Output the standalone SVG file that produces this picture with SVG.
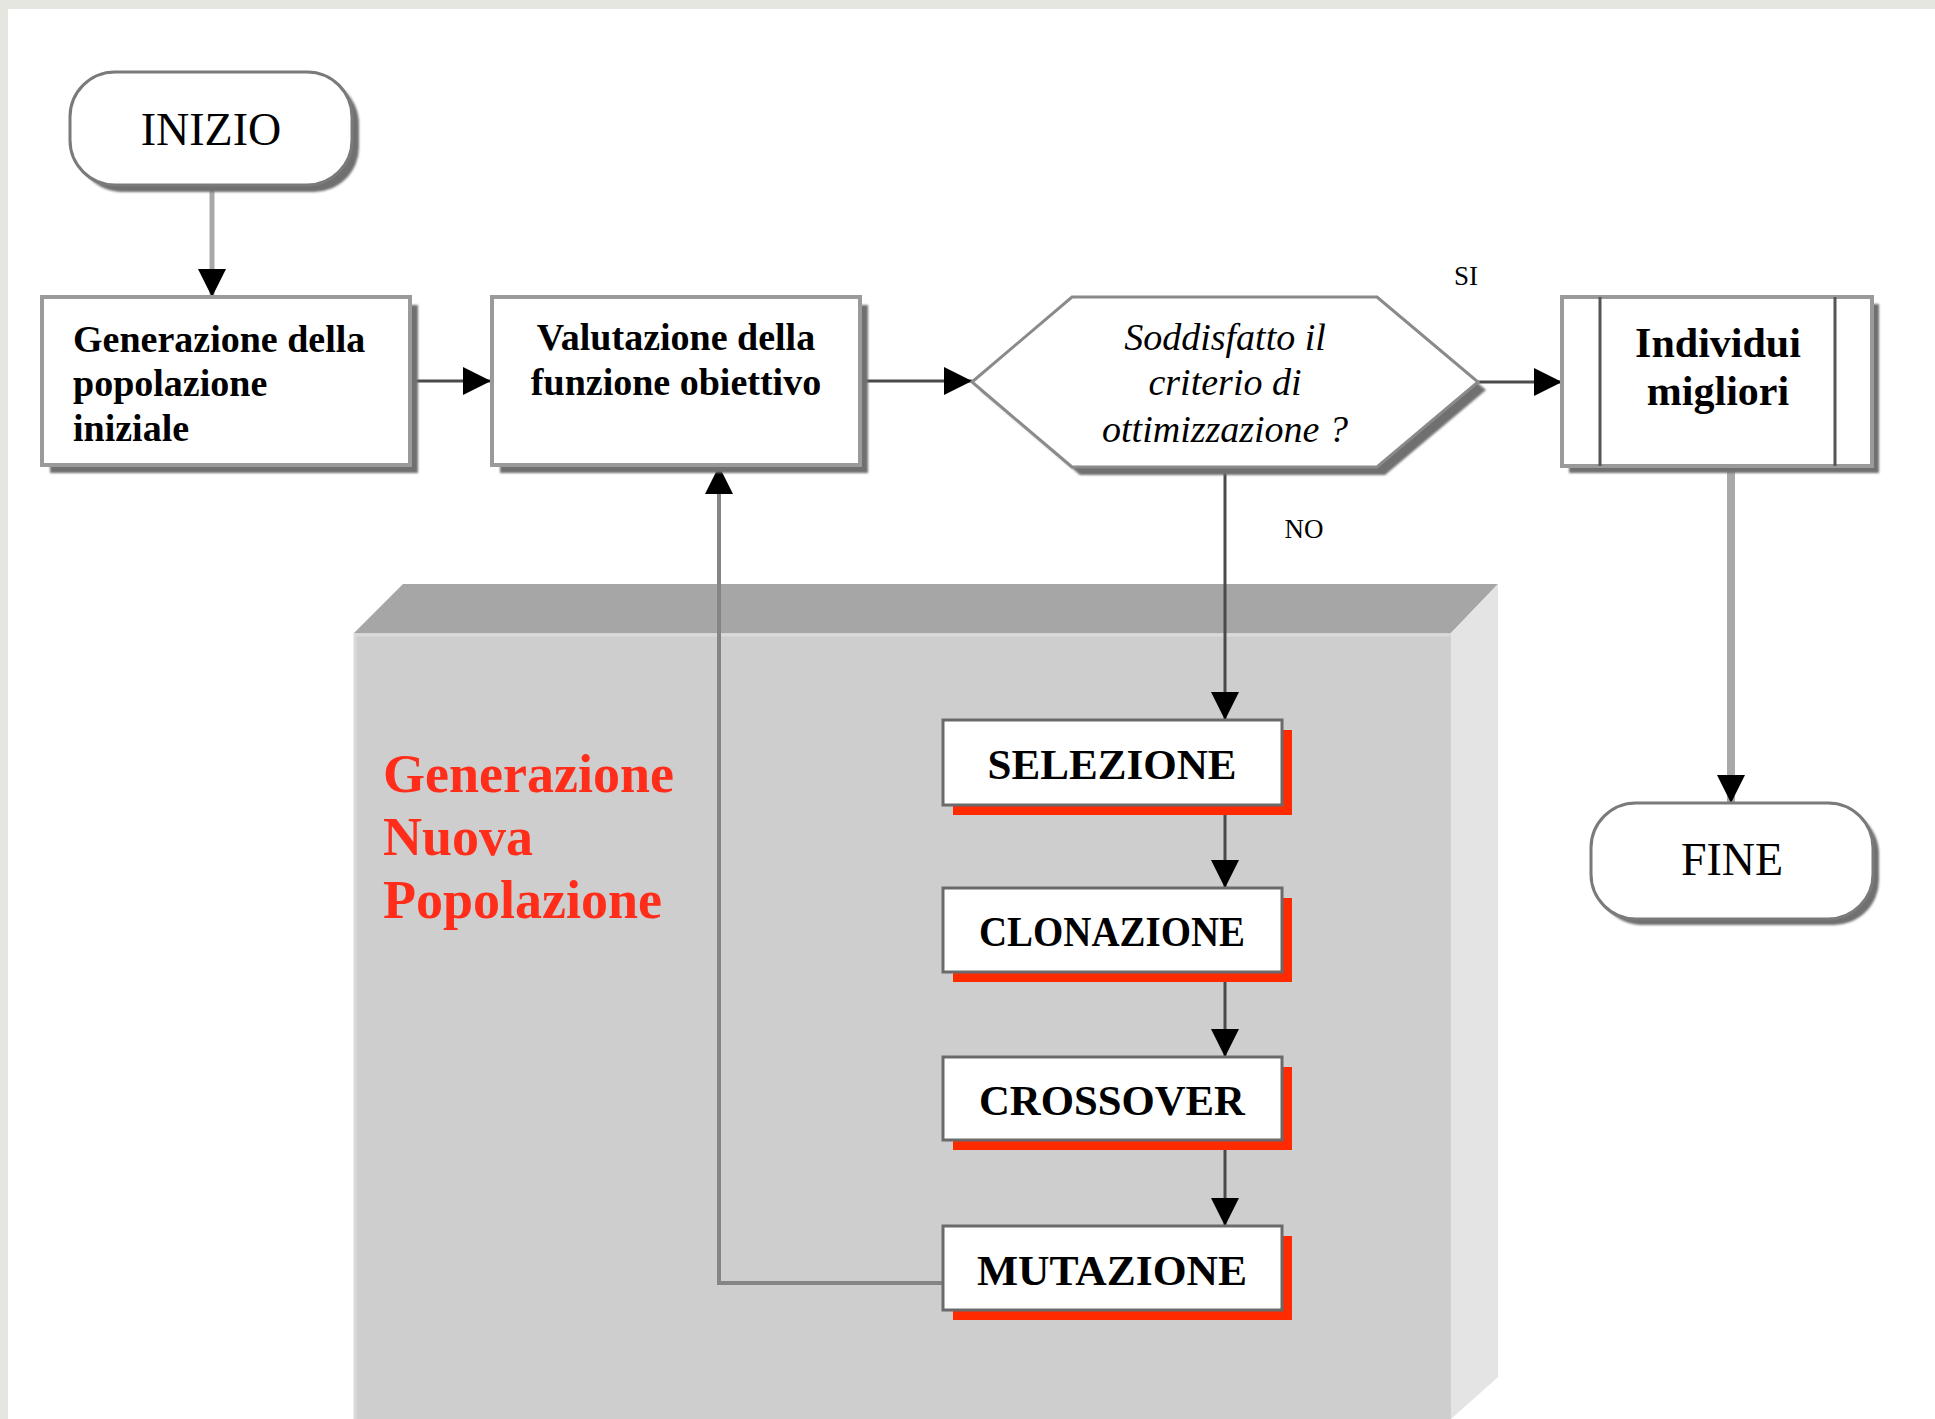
<svg xmlns="http://www.w3.org/2000/svg" width="1935" height="1419" viewBox="0 0 1935 1419">
  <defs>
    <style>
      .t { font-family: "Liberation Serif", "Times New Roman", serif; fill: #000; }
      .b { font-weight: bold; }
      .term { fill: #fff; stroke: #7a7a7a; stroke-width: 3; }
      .box { fill: #fff; stroke: #9a9a9a; stroke-width: 4; }
      .shadow { fill: #6f6f6f; filter: url(#soft); }
      .proc { fill: #fff; stroke: #6a6a6a; stroke-width: 3; }
      .red { fill: #ff2a00; }
      .dark { fill: none; stroke: #4a4a4a; stroke-width: 3; }
      .light { fill: none; stroke: #a8a8a8; }
      .rt { fill: #ff2d1a; }
    </style>
    <filter id="soft" x="-5%" y="-5%" width="110%" height="110%">
      <feGaussianBlur stdDeviation="1.2"/>
    </filter>
    <marker id="arr" viewBox="0 0 28 28" refX="28" refY="14" markerWidth="28" markerHeight="28" markerUnits="userSpaceOnUse" orient="auto">
      <path d="M0,0 L28,14 L0,28 z" fill="#000"/>
    </marker>
  </defs>

  <!-- page -->
  <rect x="0" y="0" width="1935" height="1419" fill="#e6e6e1"/>
  <rect x="8" y="9" width="1927" height="1410" fill="#fff"/>

  <!-- 3D block behind the loop steps -->
  <g id="block">
    <polygon points="354,633 403,584 1498,584 1451,633" fill="#a6a6a6"/>
    <polygon points="1451,633 1498,584 1498,1377 1451,1419" fill="#e4e4e4"/>
    <rect x="354" y="633" width="1097" height="786" fill="#cecece"/>
    <line x1="354" y1="635" x2="1451" y2="635" stroke="#dadada" stroke-width="3"/>
    <line x1="355" y1="633" x2="355" y2="1419" stroke="#dadada" stroke-width="3"/>
    <text class="t b rt" x="383" y="792" font-size="54">Generazione</text>
    <text class="t b rt" x="383" y="855" font-size="54">Nuova</text>
    <text class="t b rt" x="383" y="918" font-size="54">Popolazione</text>
  </g>

  <!-- connectors -->
  <g id="connectors">
    <path d="M212,185 V297" class="light" stroke-width="5" marker-end="url(#arr)"/>
    <path d="M410,381 H491" class="dark" marker-end="url(#arr)"/>
    <path d="M860,381 H972" class="dark" marker-end="url(#arr)"/>
    <path d="M1478,382 H1562" class="dark" marker-end="url(#arr)"/>
    <path d="M1731,466 V803" class="light" stroke-width="8" marker-end="url(#arr)"/>
    <path d="M1225,467 V720" class="dark" marker-end="url(#arr)"/>
    <path d="M1225,805 V888" class="dark" marker-end="url(#arr)"/>
    <path d="M1225,972 V1057" class="dark" marker-end="url(#arr)"/>
    <path d="M1225,1140 V1226" class="dark" marker-end="url(#arr)"/>
    <path d="M943,1283 H719 V466" fill="none" stroke="#858585" stroke-width="4" marker-end="url(#arr)"/>
    <text class="t" x="1466" y="285" font-size="27" text-anchor="middle">SI</text>
    <text class="t" x="1304" y="538" font-size="27" text-anchor="middle">NO</text>
  </g>

  <!-- start -->
  <g id="inizio">
    <rect x="77" y="79" width="282" height="113" rx="45" class="shadow"/>
    <rect x="70" y="72" width="282" height="113" rx="45" class="term"/>
    <text class="t" x="211" y="145" font-size="46" text-anchor="middle">INIZIO</text>
  </g>

  <!-- initial population -->
  <g id="generazione">
    <rect x="50" y="305" width="368" height="168" class="shadow"/>
    <rect x="42" y="297" width="368" height="168" class="box"/>
    <text class="t b" font-size="38"><tspan x="73" y="352">Generazione della</tspan><tspan x="73" y="396">popolazione</tspan><tspan x="73" y="441">iniziale</tspan></text>
  </g>

  <!-- fitness evaluation -->
  <g id="valutazione">
    <rect x="500" y="305" width="368" height="168" class="shadow"/>
    <rect x="492" y="297" width="368" height="168" class="box"/>
    <text class="t b" font-size="38" text-anchor="middle"><tspan x="676" y="350">Valutazione della</tspan><tspan x="676" y="395">funzione obiettivo</tspan></text>
  </g>

  <!-- stop test -->
  <g id="criterio">
    <polygon points="980,390 1080,305 1385,305 1486,390 1385,475 1080,475" class="shadow"/>
    <polygon points="972,382 1072,297 1377,297 1478,382 1377,467 1072,467" fill="#fff" stroke="#8a8a8a" stroke-width="3"/>
    <text class="t" font-size="38" font-style="italic" text-anchor="middle"><tspan x="1225" y="350">Soddisfatto il</tspan><tspan x="1225" y="395">criterio di</tspan><tspan x="1225" y="442">ottimizzazione ?</tspan></text>
  </g>

  <!-- best individuals -->
  <g id="individui">
    <rect x="1569" y="304" width="310" height="169" class="shadow"/>
    <rect x="1562" y="297" width="310" height="169" class="box"/>
    <line x1="1600" y1="297" x2="1600" y2="466" stroke="#555" stroke-width="3"/>
    <line x1="1835" y1="297" x2="1835" y2="466" stroke="#555" stroke-width="3"/>
    <text class="t b" font-size="42" text-anchor="middle"><tspan x="1718" y="357">Individui</tspan><tspan x="1718" y="405">migliori</tspan></text>
  </g>

  <!-- end -->
  <g id="fine">
    <rect x="1597" y="809" width="282" height="116" rx="45" class="shadow"/>
    <rect x="1591" y="803" width="282" height="116" rx="45" class="term"/>
    <text class="t" x="1732" y="875" font-size="46" text-anchor="middle">FINE</text>
  </g>

  <!-- loop steps -->
  <g id="selezione">
    <rect x="953" y="730" width="339" height="85" class="red"/>
    <rect x="943" y="720" width="339" height="85" class="proc"/>
    <text class="t b" x="1112" y="779" font-size="42" text-anchor="middle" textLength="249" lengthAdjust="spacingAndGlyphs">SELEZIONE</text>
  </g>
  <g id="clonazione">
    <rect x="953" y="898" width="339" height="84" class="red"/>
    <rect x="943" y="888" width="339" height="84" class="proc"/>
    <text class="t b" x="1112" y="946" font-size="42" text-anchor="middle" textLength="266" lengthAdjust="spacingAndGlyphs">CLONAZIONE</text>
  </g>
  <g id="crossover">
    <rect x="953" y="1067" width="339" height="83" class="red"/>
    <rect x="943" y="1057" width="339" height="83" class="proc"/>
    <text class="t b" x="1112" y="1115" font-size="42" text-anchor="middle" textLength="266" lengthAdjust="spacingAndGlyphs">CROSSOVER</text>
  </g>
  <g id="mutazione">
    <rect x="953" y="1236" width="339" height="84" class="red"/>
    <rect x="943" y="1226" width="339" height="84" class="proc"/>
    <text class="t b" x="1112" y="1285" font-size="42" text-anchor="middle" textLength="270" lengthAdjust="spacingAndGlyphs">MUTAZIONE</text>
  </g>
</svg>
